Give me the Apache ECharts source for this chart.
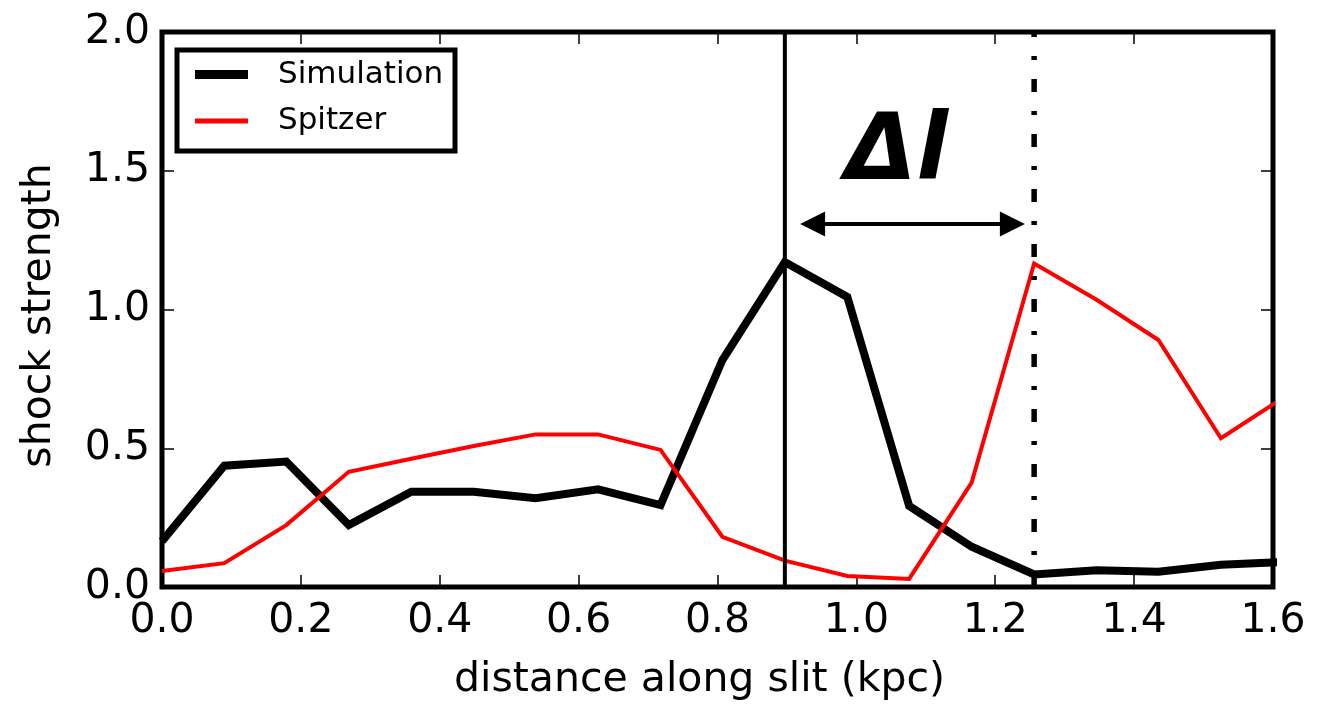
<!DOCTYPE html>
<html>
<head>
<meta charset="utf-8">
<script src="https://cdn.jsdelivr.net/npm/echarts@6/dist/echarts.min.js"></script>
<style>
  html, body { margin: 0; padding: 0; background: #fff; }
  #chart { width: 1318px; height: 709px; }
</style>
</head>
<body>
<div id="chart"></div>
<script>
// Sample positions along the slit (kpc)
const distance = [0, 0.0897, 0.179, 0.269, 0.359, 0.449, 0.538, 0.628, 0.718, 0.807,
                  0.897, 0.987, 1.076, 1.166, 1.256, 1.346, 1.435, 1.525, 1.615];
// Shock strength profiles
const simulation = [0.165, 0.437, 0.452, 0.223, 0.343, 0.343, 0.32, 0.352, 0.295, 0.818,
                    1.171, 1.045, 0.292, 0.145, 0.045, 0.06, 0.055, 0.08, 0.09];
const spitzer = [0.058, 0.086, 0.223, 0.415, 0.462, 0.508, 0.55, 0.55, 0.494, 0.181,
                 0.095, 0.04, 0.029, 0.376, 1.166, 1.035, 0.89, 0.536, 0.682];

const seriesNames = ['Simulation', 'Spitzer'];
const xTicks = { min: 0, max: 1.6, interval: 0.2 };
const yTicks = { min: 0, max: 2.0, interval: 0.5 };

// Peak positions of the two profiles and the offset between them
const simPeakX = 0.897;
const obsPeakX = 1.256;
const offsetArrow = { from: 0.937, to: 1.2247, y: 1.308 };
const offsetLabel = { text: 'Δl', x: 1.058, y: 1.555 };

const FONT = '"DejaVu Sans", sans-serif';

const chart = echarts.init(document.getElementById('chart'));

// One axis per side of the frame; ticks point inward on all four
function frameAxis(pos, ticks, showLabels, extra) {
  return Object.assign({
    type: 'value',
    position: pos,
    min: ticks.min,
    max: ticks.max,
    interval: ticks.interval,
    axisLine: { show: false, onZero: false },
    axisTick: { show: true, inside: true, length: 12, lineStyle: { color: '#000', width: 1.5 } },
    splitLine: { show: false },
    axisLabel: {
      show: showLabels,
      color: '#000',
      fontFamily: FONT,
      fontSize: 41,
      formatter: v => v.toFixed(1)
    }
  }, extra || {});
}

const option = {
  animation: false,
  backgroundColor: '#fff',
  grid: {
    left: 162, right: 45, top: 32, bottom: 122,
    show: true, borderColor: '#000', borderWidth: 5, backgroundColor: 'transparent'
  },
  xAxis: [
    frameAxis('bottom', xTicks, true, {
      name: 'distance along slit (kpc)',
      nameLocation: 'middle',
      nameGap: 73,
      nameTextStyle: { color: '#000', fontFamily: FONT, fontSize: 41, padding: [0, 36, 0, 0] },
      axisLabel: { show: true, color: '#000', fontFamily: FONT, fontSize: 41, margin: 14,
                   formatter: v => v.toFixed(1) }
    }),
    frameAxis('top', xTicks, false)
  ],
  yAxis: [
    frameAxis('left', yTicks, true, {
      name: 'shock strength',
      nameLocation: 'middle',
      nameGap: 102,
      nameRotate: 90,
      nameTextStyle: { color: '#000', fontFamily: FONT, fontSize: 41, padding: [0, 12, 0, 0] },
      axisLabel: { show: true, color: '#000', fontFamily: FONT, fontSize: 41, margin: 12,
                   formatter: v => v.toFixed(1) }
    }),
    frameAxis('right', yTicks, false)
  ],
  series: [
    {
      name: seriesNames[0],
      type: 'line',
      z: 2,
      showSymbol: false,
      symbol: 'none',
      data: distance.map((d, i) => [d, simulation[i]]),
      lineStyle: { color: '#000', width: 8, join: 'miter' }
    },
    {
      name: seriesNames[1],
      type: 'line',
      z: 3,
      showSymbol: false,
      symbol: 'none',
      data: distance.map((d, i) => [d, spitzer[i]]),
      lineStyle: { color: '#ff0000', width: 4, join: 'miter' }
    },
    {
      name: 'simulation peak',
      type: 'line',
      z: 4,
      symbol: 'none',
      data: [[simPeakX, yTicks.min], [simPeakX, yTicks.max]],
      lineStyle: { color: '#000', width: 4 }
    },
    {
      name: 'observed peak',
      type: 'line',
      z: 4,
      symbol: 'none',
      data: [[obsPeakX, yTicks.min], [obsPeakX, yTicks.max]],
      lineStyle: { color: '#000', width: 5.5, type: [13, 19, 4, 19], cap: 'butt' }
    },
    {
      name: 'offset',
      type: 'line',
      z: 5,
      symbol: 'none',
      data: [],
      markLine: {
        silent: true,
        symbol: ['triangle', 'triangle'],
        symbolSize: 25,
        label: { show: false },
        lineStyle: { color: '#000', width: 4, type: 'solid' },
        data: [[{ coord: [offsetArrow.from, offsetArrow.y] }, { coord: [offsetArrow.to, offsetArrow.y] }]]
      },
      markPoint: {
        silent: true,
        symbol: 'circle',
        symbolSize: 0,
        label: {
          show: true,
          position: 'inside',
          formatter: offsetLabel.text,
          color: '#000',
          fontFamily: FONT,
          fontSize: 92,
          fontWeight: 'bold',
          fontStyle: 'italic'
        },
        data: [{ coord: [offsetLabel.x, offsetLabel.y] }]
      }
    }
  ],
  graphic: [
    { type: 'rect', z: 100, shape: { x: 177, y: 50, width: 278, height: 101 },
      style: { fill: '#fff', stroke: '#000', lineWidth: 5 } },
    { type: 'line', z: 101, shape: { x1: 195, y1: 74.5, x2: 248, y2: 74.5 },
      style: { stroke: '#000', lineWidth: 9 } },
    { type: 'line', z: 101, shape: { x1: 195, y1: 121, x2: 248, y2: 121 },
      style: { stroke: '#ff0000', lineWidth: 5 } },
    { type: 'text', z: 101, x: 278, y: 75,
      style: { text: seriesNames[0], fill: '#000', font: '31px ' + FONT, verticalAlign: 'middle' } },
    { type: 'text', z: 101, x: 278, y: 121,
      style: { text: seriesNames[1], fill: '#000', font: '31px ' + FONT, verticalAlign: 'middle' } }
  ]
};

chart.setOption(option);
</script>
</body>
</html>
